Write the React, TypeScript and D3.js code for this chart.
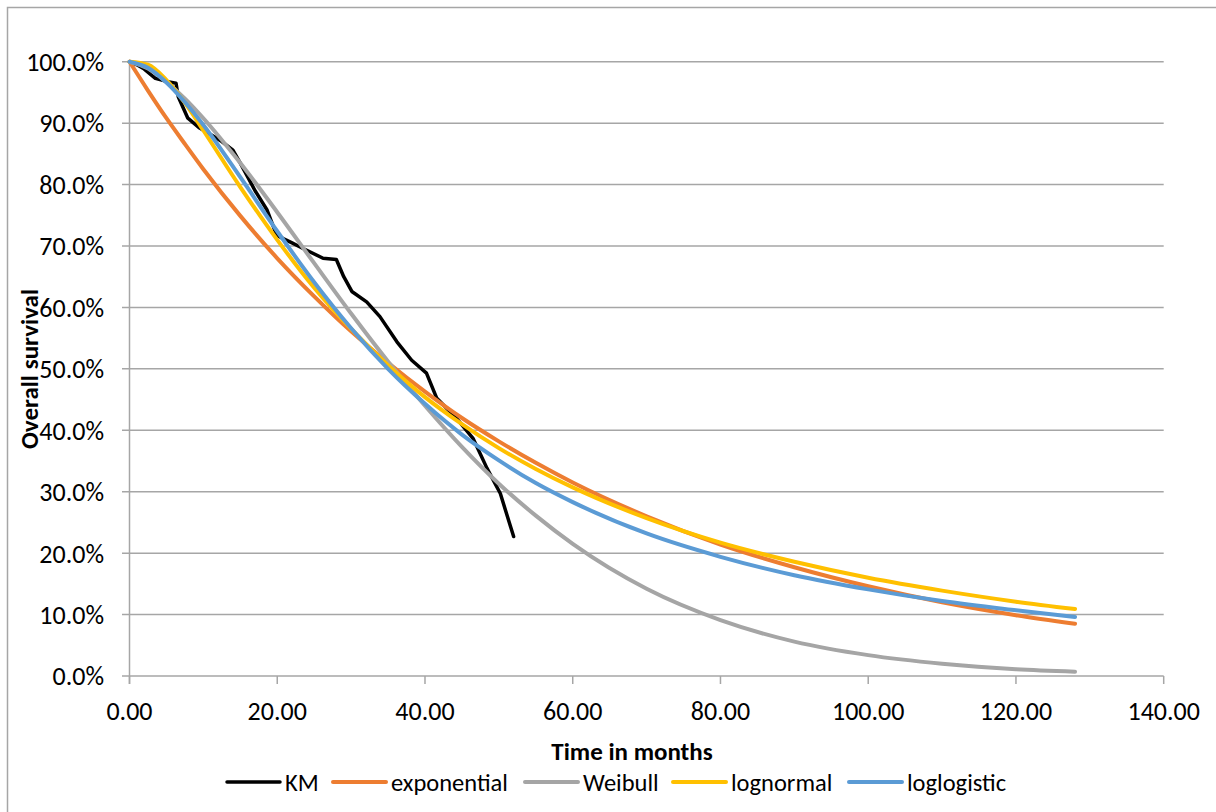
import React from "react";
import * as d3 from "d3";

// ---- data ----
const kmTime = [0, 1, 2, 3.5, 5, 6.3, 6.6, 7.9, 9.5, 11.6, 12.5, 14.0, 15.0, 17.0, 18.6, 19.9, 20.8, 22.0, 23.5, 26.2, 28.0, 29.0, 30.1, 32.1, 33.9, 36.2, 38.2, 40.2, 41.6, 42.5, 44.3, 46.5, 48.4, 50.2, 52.0];
const kmSurv = [1.0, 0.995, 0.988, 0.973, 0.968, 0.965, 0.943, 0.908, 0.892, 0.877, 0.87, 0.856, 0.835, 0.79, 0.759, 0.718, 0.712, 0.705, 0.696, 0.68, 0.678, 0.65, 0.626, 0.609, 0.585, 0.544, 0.514, 0.493, 0.452, 0.441, 0.419, 0.387, 0.338, 0.297, 0.227];

const fitTime = [0, 2.5, 5, 7.5, 10, 15, 20, 25, 30, 35, 40, 45, 50, 55, 60, 70, 80, 90, 100, 110, 120, 128];
const expSurv = [1.0, 0.953, 0.908, 0.866, 0.825, 0.749, 0.68, 0.618, 0.561, 0.51, 0.463, 0.42, 0.382, 0.347, 0.315, 0.26, 0.214, 0.177, 0.146, 0.12, 0.099, 0.085];
const weibullSurv = [1.0, 0.989, 0.967, 0.94, 0.908, 0.835, 0.755, 0.672, 0.59, 0.512, 0.44, 0.373, 0.313, 0.261, 0.215, 0.142, 0.091, 0.056, 0.034, 0.02, 0.011, 0.007];
const lognormalSurv = [1.0, 0.995, 0.97, 0.933, 0.888, 0.796, 0.71, 0.632, 0.565, 0.506, 0.454, 0.41, 0.371, 0.337, 0.307, 0.257, 0.217, 0.186, 0.16, 0.139, 0.121, 0.109];
const loglogisticSurv = [1.0, 0.99, 0.966, 0.934, 0.897, 0.812, 0.724, 0.641, 0.566, 0.5, 0.443, 0.393, 0.351, 0.314, 0.283, 0.232, 0.194, 0.164, 0.141, 0.122, 0.107, 0.096];

const seriesNames = ["KM", "exponential", "Weibull", "lognormal", "loglogistic"];
const seriesColors = ["#000000", "#ED7D31", "#A5A5A5", "#FFC000", "#5B9BD5"];

const xTicks = [0, 20, 40, 60, 80, 100, 120, 140];
const yTicks = [0, 0.1, 0.2, 0.3, 0.4, 0.5, 0.6, 0.7, 0.8, 0.9, 1.0];

const xTitle = "Time in months";
const yTitle = "Overall survival";

// legend line start positions (layout)
const legendX = [227, 333, 525, 673, 849];

const FONT = "Carlito, Calibri, Lato, 'Open Sans', sans-serif";

export default function App() {
  const W = 1216;
  const H = 812;
  const x = d3.scaleLinear().domain([0, 140]).range([129.5, 1163.7]);
  const y = d3.scaleLinear().domain([0, 1]).range([676, 61.7]);

  const fitLine = d3
    .line<number>()
    .x((_, i) => x(fitTime[i]))
    .y((d) => y(d))
    .curve(d3.curveMonotoneX);
  const kmLine = d3
    .line<number>()
    .x((_, i) => x(kmTime[i]))
    .y((d) => y(d))
    .curve(d3.curveLinear);

  const fits = [expSurv, weibullSurv, lognormalSurv, loglogisticSurv];
  const grid = "#A6A6A6";
  const fx = d3.format(".2f");
  const fy = d3.format(".1%");

  return (
    <svg
      width={W}
      height={H}
      style={{ position: "absolute", left: 0, top: 0, background: "#fff" }}
      fontFamily={FONT}
    >
      <rect x={0} y={0} width={W} height={H} fill="#fff" />
      <rect x={7.5} y={7.5} width={W + 10} height={H + 10} fill="none" stroke={grid} strokeWidth={1.5} />

      {/* gridlines + y ticks */}
      {yTicks.map((t) => (
        <line key={"g" + t} x1={122} x2={x(140)} y1={y(t)} y2={y(t)} stroke={grid} strokeWidth={1.5} />
      ))}
      {yTicks.map((t) => (
        <text key={"yl" + t} x={104} y={y(t)} dy="0.36em" textAnchor="end" fontSize={26} fill="#000">
          {fy(t)}
        </text>
      ))}
      {/* y axis */}
      <line x1={x(0)} x2={x(0)} y1={y(1)} y2={684} stroke={grid} strokeWidth={1.5} />
      {/* x ticks */}
      {xTicks.map((t) => (
        <line key={"xt" + t} x1={x(t)} x2={x(t)} y1={y(0)} y2={684} stroke={grid} strokeWidth={1.5} />
      ))}
      {xTicks.map((t) => (
        <text key={"xl" + t} x={x(t)} y={720} textAnchor="middle" fontSize={26} fill="#000">
          {fx(t)}
        </text>
      ))}

      {/* series */}
      <path d={kmLine(kmSurv) || ""} fill="none" stroke={seriesColors[0]} strokeWidth={3.5} strokeLinejoin="round" strokeLinecap="round" />
      {fits.map((s, i) => (
        <path
          key={"s" + i}
          d={fitLine(s) || ""}
          fill="none"
          stroke={seriesColors[i + 1]}
          strokeWidth={4}
          strokeLinejoin="round"
          strokeLinecap="round"
        />
      ))}

      {/* axis titles */}
      <text x={632} y={760} textAnchor="middle" fontSize={25} fontWeight="bold" fill="#000">
        {xTitle}
      </text>
      <text
        transform={`translate(29,369) rotate(-90)`}
        textAnchor="middle"
        dominantBaseline="central"
        fontSize={25}
        fontWeight="bold"
        fill="#000"
      >
        {yTitle}
      </text>

      {/* legend */}
      {seriesNames.map((n, i) => (
        <g key={"lg" + n}>
          <line
            x1={legendX[i]}
            x2={legendX[i] + 53}
            y1={782}
            y2={782}
            stroke={seriesColors[i]}
            strokeWidth={i === 0 ? 3.5 : 4}
            strokeLinecap="round"
          />
          <text x={legendX[i] + 58} y={782} dy="0.36em" fontSize={24.5} fill="#000">
            {n}
          </text>
        </g>
      ))}
    </svg>
  );
}
